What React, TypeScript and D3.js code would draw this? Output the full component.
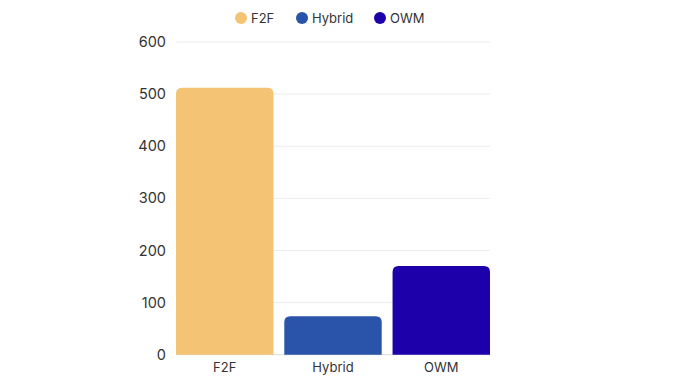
import React from "react";
import * as d3 from "d3";

const categories = ["F2F", "Hybrid", "OWM"];
const values = [512, 74, 170];
const colors = ["#F4C373", "#2954AA", "#1E00AA"];
const yTicks = [0, 100, 200, 300, 400, 500, 600];

const W = 678, H = 381;
const margin = { left: 176, right: 188, top: 42, bottom: 26 };

function topRoundedRect(x: number, y: number, w: number, h: number, r: number) {
  const rr = Math.min(r, h, w / 2);
  return `M${x},${y + h}V${y + rr}Q${x},${y} ${x + rr},${y}H${x + w - rr}Q${x + w},${y} ${x + w},${y + rr}V${y + h}Z`;
}

export default function App() {
  const x = d3.scaleBand<string>().domain(categories).range([margin.left, W - margin.right]).paddingInner(0.1).paddingOuter(0);
  const y = d3.scaleLinear().domain([0, 600]).range([H - margin.bottom - 0.3, margin.top]);
  const font = "Inter, 'Noto Sans', sans-serif";
  const legendX = [241, 302, 380];
  return (
    <svg width={W} height={H} style={{ position: "absolute", left: 0, top: 0, background: "#fff" }} fontFamily={font}>
      {yTicks.map((t) => (
        <g key={t}>
          <line x1={margin.left} x2={W - margin.right} y1={y(t)} y2={y(t)} stroke={t === 0 ? "#dcdcdc" : "#ececf0"} strokeWidth={1} />
          <text x={166} y={y(t)} dy="0.35em" textAnchor="end" fontSize={14.5} fill="#333">{t}</text>
        </g>
      ))}
      {categories.map((c, i) => (
        <g key={c}>
          <path d={topRoundedRect(x(c)!, y(values[i]), x.bandwidth(), y(0) - y(values[i]), 6)} fill={colors[i]} />
          <text x={x(c)! + x.bandwidth() / 2} y={y(0) + 13} dy="0.35em" textAnchor="middle" fontSize={13} fill="#333">{c}</text>
        </g>
      ))}
      {categories.map((c, i) => (
        <g key={"l" + c}>
          <circle cx={legendX[i]} cy={18} r={6} fill={colors[i]} />
          <text x={legendX[i] + 10} y={18} dy="0.35em" fontSize={13} fill="#333">{c}</text>
        </g>
      ))}
    </svg>
  );
}
